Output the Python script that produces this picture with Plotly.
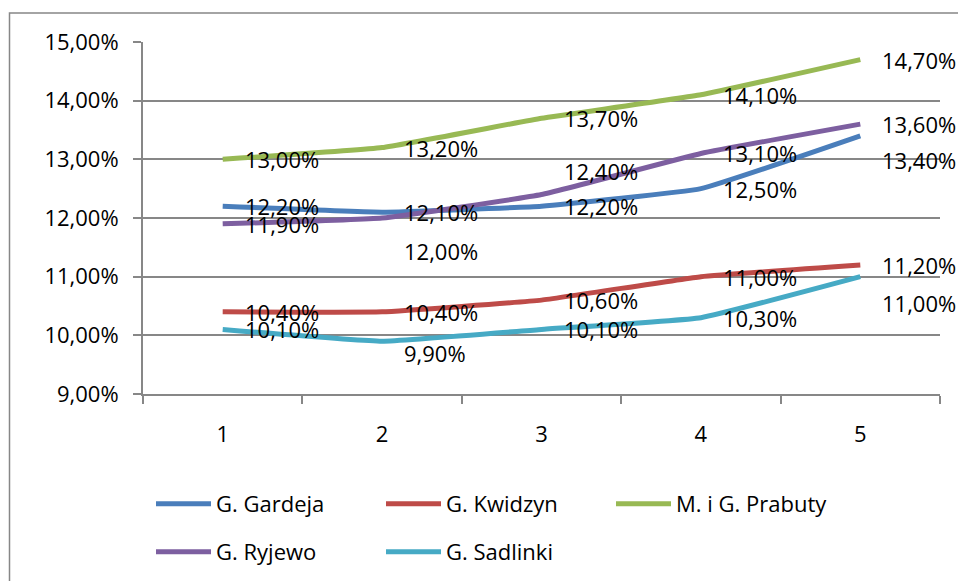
import plotly.graph_objects as go

categories = ["1", "2", "3", "4", "5"]
series_names = ["G. Gardeja", "G. Kwidzyn", "M. i G. Prabuty", "G. Ryjewo", "G. Sadlinki"]
gardeja = [12.2, 12.1, 12.2, 12.5, 13.4]
kwidzyn = [10.4, 10.4, 10.6, 11.0, 11.2]
prabuty = [13.0, 13.2, 13.7, 14.1, 14.7]
ryjewo = [11.9, 12.0, 12.4, 13.1, 13.6]
sadlinki = [10.1, 9.9, 10.1, 10.3, 11.0]
y_ticks = [9, 10, 11, 12, 13, 14, 15]
y_tick_labels = ["9,00%", "10,00%", "11,00%", "12,00%", "13,00%", "14,00%", "15,00%"]

values = [gardeja, kwidzyn, prabuty, ryjewo, sadlinki]
colors = ["#4A7EBB", "#BE4B48", "#98B954", "#7D5FA0", "#46AAC5"]
legend_ids = ["legend", "legend", "legend", "legend2", "legend2"]

# manual label nudges (pixels, positive = downwards) mimicking the reference
label_nudge = {
    (0, 4): 24,
    (4, 4): 26,
    (3, 2): -24,
    (3, 1): 33,
    (4, 1): 12,
}

FONT = "Open Sans, Liberation Sans, sans-serif"
FS = 22
GRAY = "#878787"

fig = go.Figure()
annotations = []
for si, (name, vals, col, lg) in enumerate(zip(series_names, values, colors, legend_ids)):
    fig.add_trace(go.Scatter(
        x=categories, y=vals, name=name, mode="lines",
        line=dict(color=col, width=5, shape="spline", smoothing=0.3),
        legend=lg,
    ))
    for pi, v in enumerate(vals):
        annotations.append(dict(
            x=pi, y=v, xref="x", yref="y",
            text=f"{v:.2f}".replace(".", ",") + "%",
            showarrow=False, xanchor="left", yanchor="middle",
            xshift=20, yshift=-label_nudge.get((si, pi), 0),
            font=dict(family=FONT, size=FS, color="#000000"),
        ))

W, H = 966, 581
OFF = 8  # page body margin
# plot area in screen pixels: x 143..940, y 42..394
L = 143 - OFF
T = 42 - OFF
R = W - (940 - OFF)
B = H - (394 - OFF)
pw, ph = W - L - R, H - T - B

def px(xs):
    return (xs - OFF - L) / pw

def py(ys):
    return (H - B - (ys - OFF)) / ph

fig.update_layout(
    width=W, height=H,
    margin=dict(l=L, r=R, t=T, b=B, autoexpand=False),
    paper_bgcolor="white", plot_bgcolor="white",
    font=dict(family=FONT, size=FS, color="#000000"),
    annotations=annotations,
    xaxis=dict(
        type="category", range=[-0.5, 4.5], tickson="boundaries", ticks="outside", ticklen=8,
        tickcolor=GRAY, tickwidth=1.5, showline=True, linecolor=GRAY, linewidth=2,
        showgrid=False, ticklabelstandoff=20, automargin=False,
        tickfont=dict(family=FONT, size=FS),
    ),
    yaxis=dict(
        range=[9, 15], tickvals=y_ticks, ticktext=y_tick_labels,
        ticks="outside", ticklen=8, tickcolor=GRAY, tickwidth=1.5,
        showline=True, linecolor=GRAY, linewidth=2, automargin=False,
        showgrid=True, gridcolor=GRAY, gridwidth=2, zeroline=False,
        ticklabelstandoff=10, tickfont=dict(family=FONT, size=FS),
    ),
    legend=dict(
        orientation="h", x=px(151), y=py(504), xanchor="left", yanchor="middle",
        entrywidth=160, entrywidthmode="pixels", itemwidth=55,
        font=dict(family=FONT, size=FS), bgcolor="rgba(0,0,0,0)",
    ),
    legend2=dict(
        orientation="h", x=px(151), y=py(552), xanchor="left", yanchor="middle",
        entrywidth=160, entrywidthmode="pixels", itemwidth=55,
        font=dict(family=FONT, size=FS), bgcolor="rgba(0,0,0,0)",
    ),
    shapes=[dict(
        type="rect", xref="paper", yref="paper",
        x0=px(9.5), x1=px(990), y0=py(600), y1=py(13),
        line=dict(color=GRAY, width=1.5), fillcolor="rgba(0,0,0,0)", layer="below",
    )],
    showlegend=True,
)

fig.write_html("out.html")
